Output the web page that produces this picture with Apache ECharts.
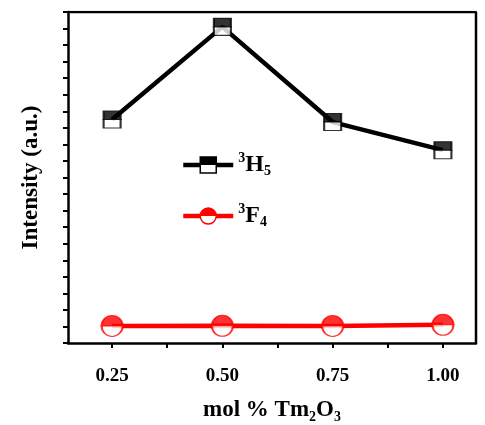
<!DOCTYPE html>
<html>
<head>
<meta charset="utf-8">
<script src="https://cdn.jsdelivr.net/npm/echarts@6/dist/echarts.min.js"></script>
<style>html,body{margin:0;background:#fff}#c{width:485px;height:425px}</style>
</head>
<body>
<div id="c"></div>
<script>
// datos
const concentraciones = [0.25, 0.5, 0.75, 1.0]
const intensidadH5 = [13.5, 19.1, 13.35, 11.65]
const intensidadF4 = [1.03, 1.04, 1.03, 1.1]
const ticksX = [0.25, 0.375, 0.5, 0.625, 0.75, 0.875, 1.0]
const etiquetasX = [0.25, 0.5, 0.75, 1.0]

const fuente = 'Liberation Serif'
const chart = echarts.init(document.getElementById('c'))

// relleno mitad color arriba, blanco abajo (para la leyenda)
function mitad(color) {
	return new echarts.graphic.LinearGradient(0, 0, 0, 1, [
		{ offset: 0, color: color },
		{ offset: 0.5, color: color },
		{ offset: 0.5, color: '#fff' },
		{ offset: 1, color: '#fff' },
	])
}

const rich = {
	sup: { fontFamily: fuente, fontWeight: 'bold', fontSize: 14, color: '#000', verticalAlign: 'top', padding: [0, 0, 14, 0] },
	b: { fontFamily: fuente, fontWeight: 'bold', fontSize: 24, color: '#000' },
	sub: { fontFamily: fuente, fontWeight: 'bold', fontSize: 14, color: '#000', padding: [12, 0, 0, 0] },
}

const puntos = (vals) => concentraciones.map((c, i) => [c, vals[i]])

// media mitad del símbolo: arriba rellena, abajo blanca
function medio(vals, sym, w, h, color, arriba) {
	return {
		type: 'scatter',
		data: puntos(vals),
		symbol: sym,
		symbolSize: [w, h],
		symbolKeepAspect: false,
		symbolOffset: [0, arriba ? -h / 2 : h / 2],
		itemStyle: { color: arriba ? color : '#fff', borderColor: color, borderWidth: 1.5 },
		silent: true,
		z: 5,
	}
}

chart.setOption({
	animation: false,
	grid: { left: 68, top: 12, right: 9, bottom: 82, outerBoundsMode: 'none' },
	legend: {
		left: 176,
		top: 146,
		orient: 'vertical',
		itemGap: 24,
		itemWidth: 50,
		itemHeight: 20,
		data: [
			{ name: 'H5', itemStyle: { color: mitad('#000'), borderColor: '#000', borderWidth: 1.5 }, lineStyle: { width: 4.5 } },
			{ name: 'F4', itemStyle: { color: mitad('#f00'), borderColor: '#f00', borderWidth: 1.5 }, lineStyle: { width: 4.5 } },
		],
		formatter: (n) => (n === 'H5' ? '{sup|3}{b|H}{sub|5}' : '{sup|3}{b|F}{sub|4}'),
		textStyle: { rich: rich },
	},
	xAxis: {
		type: 'value',
		min: 0.15,
		max: 1.075,
		splitLine: { show: false },
		axisLine: { lineStyle: { color: '#000', width: 2.5 } },
		axisTick: { customValues: ticksX, length: 5, lineStyle: { color: '#000', width: 2 } },
		axisLabel: {
			customValues: etiquetasX,
			formatter: (v) => v.toFixed(2),
			fontFamily: fuente, fontWeight: 'bold', fontSize: 19, color: '#000', margin: 24,
		},
		name: '{t|mol % Tm}{s|2}{t|O}{s|3}',
		nameLocation: 'middle',
		nameGap: 53,
		nameTextStyle: {
			rich: {
				t: { fontFamily: fuente, fontWeight: 'bold', fontSize: 23, color: '#000' },
				s: { fontFamily: fuente, fontWeight: 'bold', fontSize: 14, color: '#000', padding: [14, 0, 0, 0] },
			},
		},
	},
	yAxis: {
		type: 'value',
		min: 0,
		max: 20,
		interval: 1,
		splitLine: { show: false },
		axisLine: { lineStyle: { color: '#000', width: 2.5 } },
		axisTick: { length: 5, lineStyle: { color: '#000', width: 2 } },
		axisLabel: { show: false },
		name: 'Intensity (a.u.)',
		nameLocation: 'middle',
		nameGap: 25,
		nameTextStyle: { fontFamily: fuente, fontWeight: 'bold', fontSize: 23, color: '#000' },
	},
	series: [
		{
			name: 'H5',
			type: 'line',
			data: puntos(intensidadH5),
			showSymbol: false,
			symbol: 'rect',
			lineStyle: { color: '#000', width: 4.5 },
			itemStyle: { color: '#000' },
		},
		medio(intensidadH5, 'rect', 17, 8.5, '#000', true),
		medio(intensidadH5, 'rect', 17, 8.5, '#000', false),
		{
			name: 'F4',
			type: 'line',
			data: puntos(intensidadF4),
			showSymbol: false,
			symbol: 'circle',
			lineStyle: { color: '#f00', width: 4.5 },
			itemStyle: { color: '#f00' },
		},
		medio(intensidadF4, 'path://M0,1A1,1 0 0 1 2,1Z', 21, 10.5, '#f00', true),
		medio(intensidadF4, 'path://M0,0A1,1 0 0 0 2,0Z', 21, 10.5, '#f00', false),
		{
			// marco superior y derecho
			type: 'line',
			data: [[0.15, 20], [1.075, 20], [1.075, 0]],
			symbol: 'none',
			silent: true,
			lineStyle: { color: '#000', width: 2.5 },
			z: 1,
		},
	],
})
</script>
</body>
</html>
